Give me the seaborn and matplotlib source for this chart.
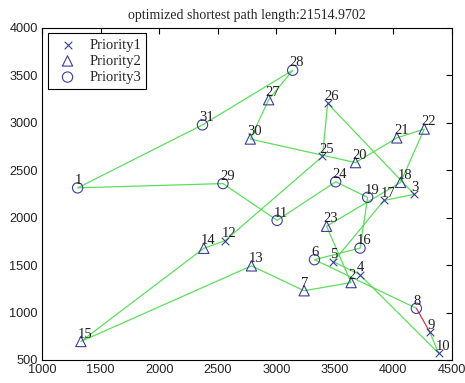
import numpy as np
import pandas as pd
import seaborn as sns
import matplotlib
matplotlib.use("Agg")
import matplotlib.pyplot as plt

# city coordinates (31 cities)
city_x = [1304, 3639, 4177, 3712, 3488, 3326, 3238, 4196, 4312, 4386,
          3007, 2562, 2788, 2381, 1332, 3715, 3918, 4061, 3780, 3676,
          4029, 4263, 3429, 3507, 3394, 3439, 2935, 3140, 2545, 2778, 2370]
city_y = [2312, 1315, 2244, 1399, 1535, 1556, 1229, 1044, 790, 570,
          1970, 1756, 1491, 1676, 695, 1678, 2179, 2370, 2212, 2578,
          2838, 2931, 1908, 2376, 2643, 3201, 3240, 3550, 2357, 2826, 2975]
priority = [3, 2, 1, 1, 1, 3, 2, 3, 1, 1,
            3, 1, 2, 2, 2, 3, 1, 2, 3, 2,
            2, 2, 2, 3, 1, 1, 2, 3, 3, 2, 3]

# visiting order (priority 1 first, then 2, then 3)
tour = [9, 10, 4, 5, 17, 3, 26, 25, 12,
        14, 15, 13, 7, 2, 23, 18, 22, 21, 20, 30, 27,
        28, 31, 1, 29, 11, 24, 19, 16, 6, 8]

path_len = 21514.9702

df = pd.DataFrame({"x": city_x, "y": city_y, "priority": priority,
                   "city": np.arange(1, len(city_x) + 1)})

sns.set_style("white")
plt.rcParams["font.family"] = ["Liberation Sans", "DejaVu Sans"]
serif = ["Liberation Serif", "DejaVu Serif"]

fig = plt.figure(figsize=(4.65, 3.83), dpi=100)
ax = fig.add_axes([42 / 465, 1 - 360 / 383, 410 / 465, 332.5 / 383])

blue = "#3a3d9c"
green = "#5ede5e"

# route (green), closing edge in red
route = pd.DataFrame({"x": [city_x[i - 1] for i in tour],
                      "y": [city_y[i - 1] for i in tour]})
sns.lineplot(data=route, x="x", y="y", sort=False, estimator=None,
             color=green, linewidth=0.9, ax=ax, zorder=1)
close = pd.DataFrame({"x": [city_x[tour[-1] - 1], city_x[tour[0] - 1]],
                      "y": [city_y[tour[-1] - 1], city_y[tour[0] - 1]]})
sns.lineplot(data=close, x="x", y="y", sort=False, estimator=None,
             color="#c84040", linewidth=0.9, ax=ax, zorder=1)

# cities by priority
marker_map = {1: "x", 2: "^", 3: "o"}
for p in [1, 2, 3]:
    sub = df[df.priority == p]
    if marker_map[p] == "x":
        sns.scatterplot(data=sub, x="x", y="y", marker="x", s=30,
                        color=blue, linewidth=0.8, ax=ax,
                        label="Priority%d" % p, zorder=3)
    else:
        sns.scatterplot(data=sub, x="x", y="y", marker=marker_map[p], s=55,
                        facecolor="none", edgecolor=blue, linewidth=0.8,
                        ax=ax, label="Priority%d" % p, zorder=3)

# city numbers
for cx, cy, n in zip(city_x, city_y, df.city):
    ax.text(cx - 25, cy + 40, str(n), fontsize=10.5, color="#202020",
            family=serif, ha="left", va="baseline", zorder=4)

ax.set_xlim(1000, 4500)
ax.set_ylim(500, 4000)
ax.set_xticks(np.arange(1000, 4501, 500))
ax.set_yticks(np.arange(500, 4001, 500))
ax.set_xlabel("")
ax.set_ylabel("")
ax.tick_params(direction="in", top=True, right=True, length=4,
               width=0.8, labelsize=9.2, colors="black", pad=3)
ax.tick_params(labelcolor="#222222")
for sp in ax.spines.values():
    sp.set_color("black")
    sp.set_linewidth(0.8)

ax.set_title("optimized shortest path length:%.4f" % path_len,
             fontsize=10, family=serif, pad=6)

leg = ax.legend(loc="upper left", frameon=True, fancybox=False,
                edgecolor="black", framealpha=1, borderpad=0.35,
                labelspacing=0.2, handletextpad=0.5, handlelength=2.0,
                borderaxespad=0.4, prop={"family": serif, "size": 10.5})
leg.get_frame().set_linewidth(0.8)

fig.savefig("out.png", dpi=100)
